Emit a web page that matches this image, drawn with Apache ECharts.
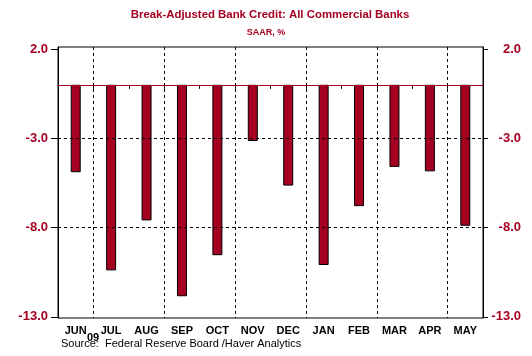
<!DOCTYPE html>
<html>
<head>
<meta charset="utf-8">
<script src="https://cdn.jsdelivr.net/npm/echarts@6/dist/echarts.min.js"></script>
<style>
html,body{margin:0;padding:0;background:#fff;}
#chart{width:532px;height:356px;}
</style>
</head>
<body>
<div id="chart"></div>
<script>
const categories = ['JUN','JUL','AUG','SEP','OCT','NOV','DEC','JAN','FEB','MAR','APR','MAY'];
const values = [-4.9,-10.4,-7.6,-11.85,-9.55,-3.15,-5.65,-10.1,-6.8,-4.6,-4.85,-7.9];
const yTickValues = [2,-3,-8,-13];
const yGridValues = [-3,-8];
const yMin = -13.07, yMax = 2.12;
const titleText = 'Break-Adjusted Bank Credit: All Commercial Banks';
const subtitleText = 'SAAR, %';
const sourceText = 'Source:  Federal Reserve Board /Haver Analytics';
const yearLabel = '09';

const RED = '#a50021';
const FONT = 'Liberation Sans, Arial, sans-serif';

const chart = echarts.init(document.getElementById('chart'), null, {renderer:'canvas'});

function yAxisCfg(pos) {
  const left = pos === 'left';
  return {
    type: 'value', position: pos, min: yMin, max: yMax,
    axisLine: {show: true, lineStyle: {color: '#000', width: 1}},
    axisTick: {show: true, customValues: yTickValues, length: left ? 7 : 5, lineStyle: {color: '#000'}},
    axisLabel: {
      customValues: yTickValues, formatter: v => v.toFixed(1),
      color: RED, fontWeight: 'bold', fontSize: 13, fontFamily: FONT,
      margin: left ? 10 : 38, align: 'right'
    },
    splitLine: {show: false}
  };
}

chart.setOption({
  animation: false,
  grid: {left: 58, right: 49, top: 47, bottom: 38, show: true, borderColor: '#000', borderWidth: 1},
  xAxis: {
    type: 'category', data: categories, boundaryGap: true,
    axisLine: {lineStyle: {color: '#000', width: 1}},
    axisTick: {show: true, length: 4, lineStyle: {color: '#000'}},
    axisLabel: {interval: 0, color: '#000', fontWeight: 'bold', fontSize: 11, fontFamily: FONT, margin: 7},
    splitLine: {show: true, interval: (i) => i % 2 === 1, lineStyle: {color: '#000', type: [3,3], width: 1}}
  },
  yAxis: [yAxisCfg('left'), yAxisCfg('right')],
  series: [{
    type: 'bar', data: values, barWidth: 10,
    itemStyle: {color: RED, borderColor: '#000', borderWidth: 1},
    markLine: {
      silent: true, symbol: 'none', label: {show: false},
      data: [
        ...yGridValues.map(v => ({yAxis: v, lineStyle: {color: '#000', type: [3,3], width: 1}})),
        {yAxis: 0, lineStyle: {color: RED, type: 'solid', width: 1}}
      ]
    }
  }],
  graphic: [
    {type: 'text', x: 270, y: 15, style: {text: titleText, fill: RED, font: 'bold 11.4px ' + FONT, align: 'center', verticalAlign: 'middle'}},
    {type: 'text', x: 266, y: 33, style: {text: subtitleText, fill: RED, font: 'bold 9px ' + FONT, align: 'center', verticalAlign: 'middle'}},
    {type: 'text', x: 61, y: 344, style: {text: sourceText, fill: '#000', font: '11px ' + FONT, align: 'left', verticalAlign: 'middle'}},
    {type: 'text', x: 93, y: 338, style: {text: yearLabel, fill: '#000', font: 'bold 11px ' + FONT, align: 'center', verticalAlign: 'middle'}}
  ]
});
</script>
</body>
</html>
